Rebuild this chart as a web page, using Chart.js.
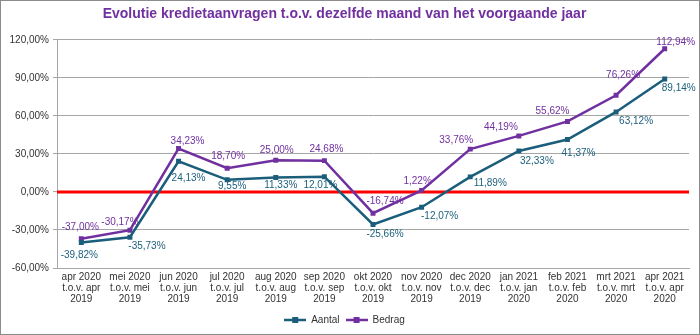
<!DOCTYPE html>
<html>
<head>
<meta charset="utf-8">
<script src="https://cdn.jsdelivr.net/npm/chart.js@4.4.1/dist/chart.umd.min.js"></script>
<style>
  html, body { margin: 0; padding: 0; background: #ffffff; }
  #wrap { width: 700px; height: 335px; }
</style>
</head>
<body>
<div id="wrap"><canvas id="c" width="700" height="335"></canvas></div>
<script>
// Month-on-month comparison labels (three lines each)
const categories = [
  ["apr 2020", "t.o.v. apr", "2019"],
  ["mei 2020", "t.o.v. mei", "2019"],
  ["jun 2020", "t.o.v. jun", "2019"],
  ["jul 2020", "t.o.v. jul", "2019"],
  ["aug 2020", "t.o.v. aug", "2019"],
  ["sep 2020", "t.o.v. sep", "2019"],
  ["okt 2020", "t.o.v. okt", "2019"],
  ["nov 2020", "t.o.v. nov", "2019"],
  ["dec 2020", "t.o.v. dec", "2019"],
  ["jan 2021", "t.o.v. jan", "2020"],
  ["feb 2021", "t.o.v. feb", "2020"],
  ["mrt 2021", "t.o.v. mrt", "2020"],
  ["apr 2021", "t.o.v. apr", "2020"]
];

// Percentage change versus the same month of the previous year
const aantal = [-39.82, -35.73, 24.13, 9.55, 11.33, 12.01, -25.66, -12.07, 11.89, 32.33, 41.37, 63.12, 89.14];
const bedrag = [-37.00, -30.17, 34.23, 18.70, 25.00, 24.68, -16.74, 1.22, 33.76, 44.19, 55.62, 76.26, 112.94];

// Value axis range and step
const yMin = -60, yMax = 120, yStep = 30;

// Label nudges in pixels [dx, dy] relative to each point
const aantalLabelShift = [[-2,13],[17,9],[10,17],[5,6],[5,8],[-4,9],[12,10],[18,9],[20,6],[18,10],[11,14],[20,9],[14,9]];
const bedragLabelShift = [[-1,-12],[-10,-8],[9,-7],[1,-12],[1,-10],[2,-11],[12,-12],[-4,-9],[-14,-9],[-18,-9],[-15,-10],[7,-20],[11,-7]];

const TEAL = '#1B5E7B';
const PURPLE = '#7030A0';
const TEXT = '#333333';
const FONT = '"Liberation Sans", Arial, sans-serif';

const fmt = v => v.toFixed(2).replace('.', ',') + '%';

// Legend marker: short line with a square in the middle
function legendMarker(color) {
  const cv = document.createElement('canvas');
  cv.width = 22; cv.height = 8;
  const g = cv.getContext('2d');
  g.strokeStyle = color; g.lineWidth = 2.5;
  g.beginPath(); g.moveTo(0, 4); g.lineTo(22, 4); g.stroke();
  g.fillStyle = color; g.fillRect(8, 1, 6, 6);
  return cv;
}

const zeroLine = {
  id: 'zeroLine',
  beforeDatasetsDraw(chart) {
    const { ctx, chartArea, scales } = chart;
    const y = scales.y.getPixelForValue(0);
    ctx.save();
    ctx.strokeStyle = '#FF0000';
    ctx.lineWidth = 3;
    ctx.beginPath();
    ctx.moveTo(chartArea.left, y);
    ctx.lineTo(chartArea.right, y);
    ctx.stroke();
    ctx.restore();
  }
};

const valueLabels = {
  id: 'valueLabels',
  afterDatasetsDraw(chart) {
    const { ctx } = chart;
    const shifts = [aantalLabelShift, bedragLabelShift];
    ctx.save();
    ctx.font = '10px ' + FONT;
    ctx.textAlign = 'center';
    ctx.textBaseline = 'middle';
    chart.data.datasets.forEach((ds, di) => {
      const meta = chart.getDatasetMeta(di);
      ctx.fillStyle = ds.borderColor;
      meta.data.forEach((pt, i) => {
        const [dx, dy] = shifts[di][i];
        ctx.fillText(fmt(ds.data[i]), pt.x + dx, pt.y + dy);
      });
    });
    ctx.restore();
  }
};

const frame = {
  id: 'frame',
  beforeDraw(chart) {
    const { ctx, width, height } = chart;
    ctx.save();
    ctx.fillStyle = '#ffffff';
    ctx.fillRect(0, 0, width, height);
    ctx.restore();
  },
  afterDraw(chart) {
    const { ctx, width, height } = chart;
    ctx.save();
    ctx.strokeStyle = '#8C8C8C';
    ctx.lineWidth = 1;
    ctx.strokeRect(0.5, 0.5, width - 1, height - 1);
    ctx.restore();
  }
};

new Chart(document.getElementById('c'), {
  type: 'line',
  data: {
    labels: categories,
    datasets: [
      {
        label: 'Aantal',
        data: aantal,
        borderColor: TEAL,
        backgroundColor: TEAL,
        borderWidth: 2.5,
        pointStyle: 'rect',
        pointRadius: 3.5,
        pointBorderWidth: 0,
        tension: 0
      },
      {
        label: 'Bedrag',
        data: bedrag,
        borderColor: PURPLE,
        backgroundColor: PURPLE,
        borderWidth: 2.5,
        pointStyle: 'rect',
        pointRadius: 3.5,
        pointBorderWidth: 0,
        tension: 0
      }
    ]
  },
  options: {
    responsive: false,
    animation: false,
    devicePixelRatio: 1,
    layout: { padding: { left: 0, right: 11, top: 0, bottom: 0 } },
    scales: {
      x: {
        offset: true,
        grid: { display: false, drawTicks: false },
        border: { display: true, color: '#A6A6A6', width: 1 },
        ticks: {
          autoSkip: false,
          maxRotation: 0,
          padding: 4,
          color: TEXT,
          font: { family: FONT, size: 10, lineHeight: 1.1 }
        }
      },
      y: {
        min: yMin,
        max: yMax,
        afterFit(scale) { scale.width = 57; },
        grid: { color: '#A6A6A6', lineWidth: 1, drawTicks: true, tickLength: 4 },
        border: { display: true, color: '#A6A6A6', width: 1 },
        ticks: {
          stepSize: yStep,
          padding: 4,
          color: TEXT,
          font: { family: FONT, size: 10 },
          callback: v => fmt(v)
        }
      }
    },
    plugins: {
      title: {
        display: true,
        text: 'Evolutie kredietaanvragen t.o.v. dezelfde maand van het voorgaande jaar',
        color: PURPLE,
        font: { family: FONT, size: 14, weight: 'bold' },
        padding: { top: 6, bottom: 17 }
      },
      legend: {
        position: 'bottom',
        labels: {
          usePointStyle: true,
          pointStyleWidth: 22,
          padding: 6,
          color: TEXT,
          font: { family: FONT, size: 10 },
          generateLabels(chart) {
            return chart.data.datasets.map((ds, i) => ({
              text: ds.label,
              pointStyle: legendMarker(ds.borderColor),
              fillStyle: ds.borderColor,
              strokeStyle: ds.borderColor,
              lineWidth: 0,
              fontColor: TEXT,
              hidden: false,
              datasetIndex: i
            }));
          }
        }
      },
      tooltip: { enabled: false }
    }
  },
  plugins: [frame, zeroLine, valueLabels]
});
</script>
</body>
</html>
